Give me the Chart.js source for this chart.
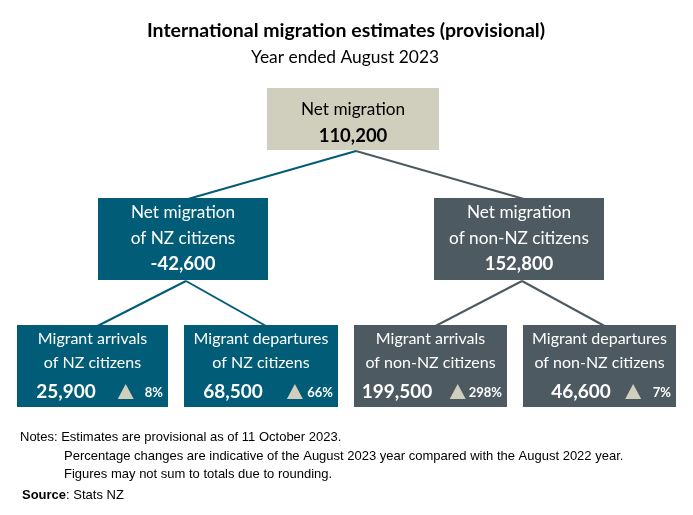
<!DOCTYPE html>
<html>
<head>
<meta charset="utf-8">
<script src="https://cdn.jsdelivr.net/npm/chart.js@4/dist/chart.umd.min.js"></script>
<style>
  html, body { margin: 0; padding: 0; background: #fff; }
  #wrap { width: 693px; height: 515px; }
</style>
</head>
<body>
<div id="wrap"><canvas id="grafico" width="693" height="515"></canvas></div>
<script>
// dados
const chartTitle = 'International migration estimates (provisional)';
const chartSubtitle = 'Year ended August 2023';
const nodeLabels = [
    ['Net migration'],
    ['Net migration', 'of NZ citizens'],
    ['Net migration', 'of non-NZ citizens'],
    ['Migrant arrivals', 'of NZ citizens'],
    ['Migrant departures', 'of NZ citizens'],
    ['Migrant arrivals', 'of non-NZ citizens'],
    ['Migrant departures', 'of non-NZ citizens']
];
const nodeValues = [110200, -42600, 152800, 25900, 68500, 199500, 46600];
const changePct = [null, null, null, 8, 66, 298, 7];
const parentIndex = [null, 0, 0, 1, 1, 2, 2];
const notes = [
    'Notes: Estimates are provisional as of 11 October 2023.',
    'Percentage changes are indicative of the August 2023 year compared with the August 2022 year.',
    'Figures may not sum to totals due to rounding.'
];
const sourceText = 'Stats NZ';

// layout (x, y, largura, altura) em unidades do eixo
const boxes = [
    [267, 88, 172, 62],
    [98, 198, 170, 82],
    [434, 198, 170, 82],
    [17, 325, 151, 82],
    [184, 325, 154, 82],
    [354, 325, 153, 82],
    [523, 325, 153, 82]
];
// centro do número nas caixas de baixo (a partir da esquerda da caixa)
const numOffset = [0, 0, 0, 49, 49, 43, 58];
const corTopo = '#D0CEBD';
const corNZ = '#005C77';
const corNaoNZ = '#4E5A61';
const corTriangulo = '#D0CEBD';
const nodeColors = [corTopo, corNZ, corNaoNZ, corNZ, corNZ, corNaoNZ, corNaoNZ];
const fonte = 'Lato, "Open Sans", sans-serif';
const fonteNotas = '"Liberation Sans", Arial, sans-serif';

// ligações pai -> filho como linhas do próprio gráfico
const ligacoes = [];
nodeValues.forEach((v, i) => {
    const p = parentIndex[i];
    if (p === null) return;
    const pb = boxes[p], cb = boxes[i];
    ligacoes.push({
        data: [
            { x: pb[0] + pb[2] / 2 + 3, y: pb[1] + pb[3] + 1 },
            { x: cb[0] + cb[2] / 2 + 5, y: cb[1] + 1 }
        ],
        showLine: true,
        borderColor: nodeColors[i],
        borderWidth: 2,
        pointRadius: 0,
        fill: false
    });
});

const fmt = n => n.toLocaleString('en-US');

const desenhaCaixas = {
    id: 'desenhaCaixas',
    afterDatasetsDraw(chart) {
        const ctx = chart.ctx;
        const sx = chart.scales.x, sy = chart.scales.y;
        const px = v => sx.getPixelForValue(v);
        const py = v => sy.getPixelForValue(v);
        ctx.save();
        ctx.textAlign = 'center';
        ctx.textBaseline = 'middle';

        ctx.fillStyle = '#000';
        ctx.font = 'bold 19.5px ' + fonte;
        ctx.fillText(chartTitle, px(346), py(31));
        ctx.font = '17.4px ' + fonte;
        ctx.fillText(chartSubtitle, px(345), py(57));

        boxes.forEach((b, i) => {
            const x0 = px(b[0]), y0 = py(b[1]);
            const w = px(b[0] + b[2]) - x0, h = py(b[1] + b[3]) - y0;
            ctx.fillStyle = nodeColors[i];
            ctx.fillRect(x0, y0, w, h);
            const txt = i === 0 ? '#000' : '#fff';
            ctx.fillStyle = txt;
            ctx.textAlign = 'center';
            const cx = x0 + w / 2;
            if (i === 0) {
                ctx.font = '17.2px ' + fonte;
                ctx.fillText(nodeLabels[i][0], cx, y0 + 21);
                ctx.font = 'bold 18.5px ' + fonte;
                ctx.fillText(fmt(nodeValues[i]), cx, y0 + 48);
            } else if (changePct[i] === null) {
                ctx.font = '17.2px ' + fonte;
                nodeLabels[i].forEach((t, k) => ctx.fillText(t, cx, y0 + 14 + k * 26));
                ctx.font = 'bold 18.5px ' + fonte;
                ctx.fillText(fmt(nodeValues[i]), cx, y0 + 66);
            } else {
                ctx.font = '16px ' + fonte;
                nodeLabels[i].forEach((t, k) => ctx.fillText(t, cx, y0 + 14 + k * 24));
                ctx.font = 'bold 19px ' + fonte;
                ctx.fillText(fmt(nodeValues[i]), x0 + numOffset[i], y0 + 67);
                // percentagem e triângulo
                ctx.textAlign = 'right';
                ctx.font = 'bold 13px ' + fonte;
                const pctTxt = changePct[i] + '%';
                const pctLeft = x0 + w - 5 - ctx.measureText(pctTxt).width;
                const tx = Math.min(x0 + w * 0.72, pctLeft - 11), ty = y0 + 67;
                ctx.fillStyle = corTriangulo;
                ctx.beginPath();
                ctx.moveTo(tx, ty - 8);
                ctx.lineTo(tx + 8, ty + 7);
                ctx.lineTo(tx - 8, ty + 7);
                ctx.closePath();
                ctx.fill();
                ctx.fillStyle = txt;
                ctx.fillText(pctTxt, x0 + w - 5, y0 + 68);
            }
        });

        // notas
        ctx.fillStyle = '#000';
        ctx.textAlign = 'left';
        ctx.font = '13px ' + fonteNotas;
        ctx.fillText(notes[0], px(20), py(437));
        ctx.fillText(notes[1], px(64), py(456));
        ctx.fillText(notes[2], px(64), py(474));
        ctx.font = 'bold 13px ' + fonteNotas;
        ctx.fillText('Source', px(22), py(495));
        const ws = ctx.measureText('Source').width;
        ctx.font = '13px ' + fonteNotas;
        ctx.fillText(': ' + sourceText, px(22) + ws, py(495));
        ctx.restore();
    }
};

const config = {
    type: 'scatter',
    data: { datasets: ligacoes },
    options: {
        responsive: false,
        animation: false,
        layout: { padding: 0 },
        plugins: {
            legend: { display: false },
            tooltip: { enabled: false },
            title: { display: false }
        },
        scales: {
            x: { type: 'linear', min: 0, max: 693, display: false },
            y: { type: 'linear', min: 0, max: 515, reverse: true, display: false }
        }
    },
    plugins: [desenhaCaixas]
};

const instanciaGrafico = new Chart(document.getElementById('grafico'), config);
</script>
</body>
</html>
